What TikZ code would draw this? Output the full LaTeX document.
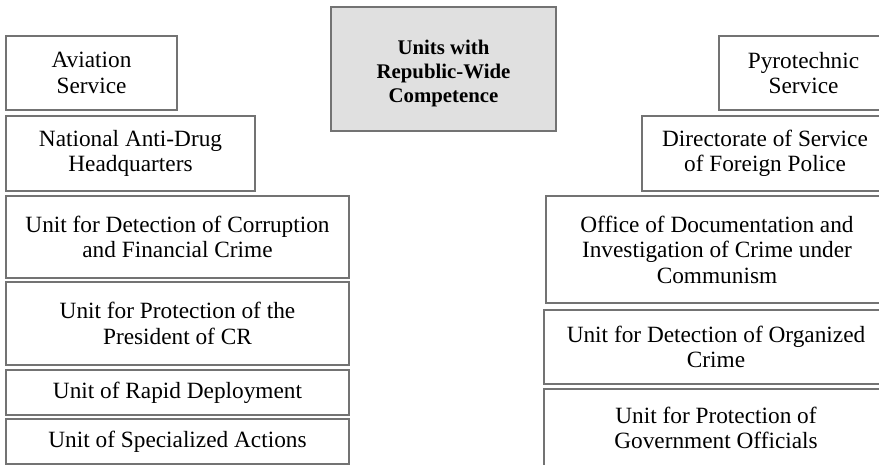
\documentclass[tikz,border=0pt]{standalone}
\usepackage{fontspec}
\setmainfont{Liberation Serif}
\usetikzlibrary{positioning}

\begin{document}
\begin{tikzpicture}[x=1pt, y=-1pt,
unitnode/.style={rectangle, draw=black!55, line width=1.6pt, fill=white, inner sep=0pt, outer sep=0pt, align=center, font=\fontsize{23.3}{25.5}\selectfont},
headnode/.style={unitnode, fill=black!12, text height=72pt, font=\fontsize{20.8}{24}\selectfont\bfseries},
]
\useasboundingbox (0,0) rectangle (879,465);
\clip (0,0) rectangle (879,465);

%Centre
\node[headnode, minimum width=225pt, minimum height=124pt, anchor=north west] (units) at (331,7) {Units with\\Republic-Wide\\Competence};

%Left column
\node[unitnode, minimum width=171pt, minimum height=74pt, anchor=north west] (aviation) at (6,36) {Aviation\\Service};
\node[unitnode, minimum width=249pt, minimum height=75pt, below=6pt of aviation.south west, anchor=north west] (antidrug) {National Anti-Drug\\Headquarters};
\node[unitnode, minimum width=343pt, minimum height=82pt, below=5pt of antidrug.south west, anchor=north west] (corruption) {Unit for Detection of Corruption\\and Financial Crime};
\node[unitnode, minimum width=343pt, minimum height=83pt, below=4pt of corruption.south west, anchor=north west] (president) {Unit for Protection of the\\President of CR};
\node[unitnode, minimum width=343pt, minimum height=45pt, below=5pt of president.south west, anchor=north west] (rapid) {Unit of Rapid Deployment};
\node[unitnode, minimum width=343pt, minimum height=45pt, below=4pt of rapid.south west, anchor=north west] (special) {Unit of Specialized Actions};

%Right column
\node[unitnode, minimum width=169pt, minimum height=74pt, anchor=north east] (pyro) at (888,36) {Pyrotechnic\\Service};
\node[unitnode, minimum width=246pt, minimum height=75pt, below=6pt of pyro.south east, anchor=north east] (foreign) {Directorate of Service\\of Foreign Police};
\node[unitnode, minimum width=342pt, minimum height=107pt, below=5pt of foreign.south east, anchor=north east] (communism) {Office of Documentation and\\Investigation of Crime under\\Communism};
\node[unitnode, minimum width=344pt, minimum height=74pt, below=7pt of communism.south east, anchor=north east] (organized) {Unit for Detection of Organized\\Crime};
\node[unitnode, minimum width=344pt, minimum height=78pt, below=5pt of organized.south east, anchor=north east] (officials) {Unit for Protection of\\Government Officials};
\end{tikzpicture}
\end{document}
